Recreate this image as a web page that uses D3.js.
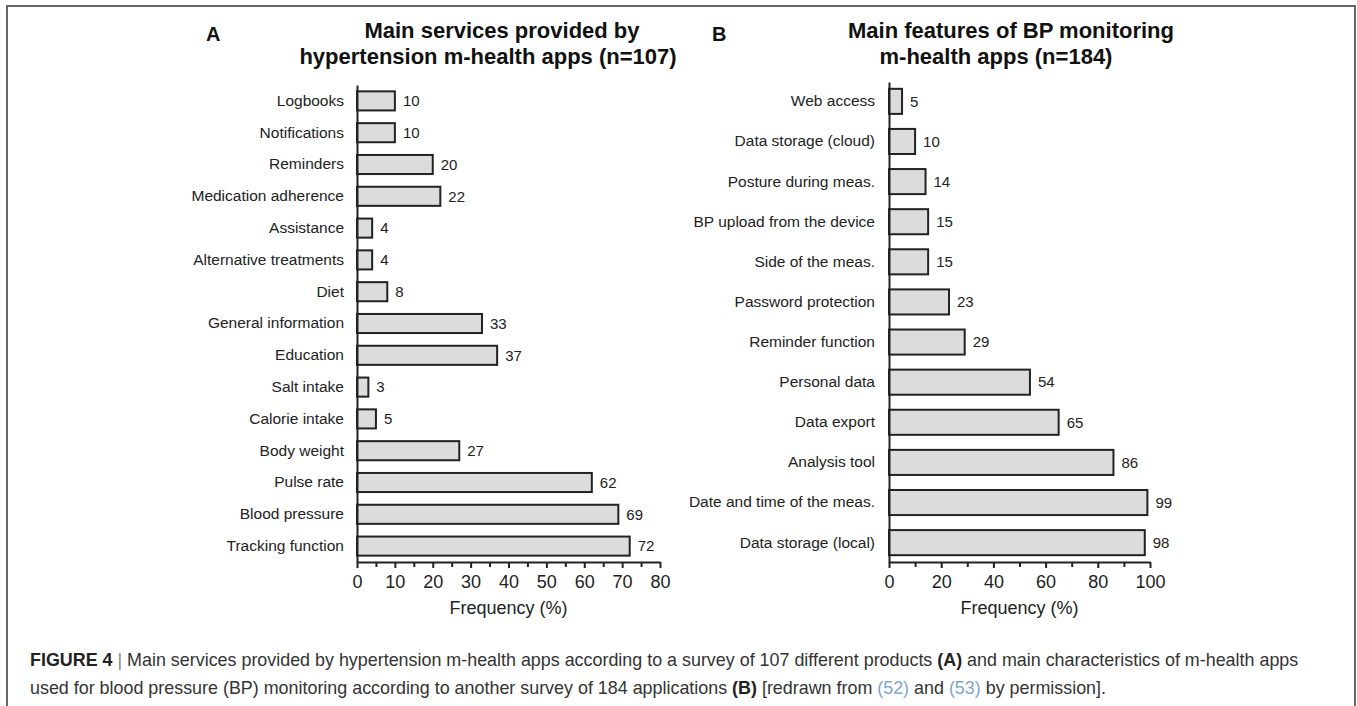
<!DOCTYPE html>
<html>
<head>
<meta charset="utf-8">
<script src="https://cdn.jsdelivr.net/npm/d3@7"></script>
<style>
	body { margin: 0; background: #fff; }
	svg { font-family: "Liberation Sans", Arial, sans-serif; }
	.domain { stroke: #222; stroke-width: 2; }
	.tick line { stroke: #222; stroke-width: 2; }
</style>
</head>
<body>
<div id="chart-area"></div>
<script>
const servicesCats = ["Logbooks", "Notifications", "Reminders", "Medication adherence", "Assistance",
	"Alternative treatments", "Diet", "General information", "Education", "Salt intake",
	"Calorie intake", "Body weight", "Pulse rate", "Blood pressure", "Tracking function"];
const servicesVals = [10, 10, 20, 22, 4, 4, 8, 33, 37, 3, 5, 27, 62, 69, 72];
const servicesTicks = [0, 10, 20, 30, 40, 50, 60, 70, 80];
const servicesMinor = [5, 15, 25, 35, 45, 55, 65, 75];

const featuresCats = ["Web access", "Data storage (cloud)", "Posture during meas.", "BP upload from the device",
	"Side of the meas.", "Password protection", "Reminder function", "Personal data", "Data export",
	"Analysis tool", "Date and time of the meas.", "Data storage (local)"];
const featuresVals = [5, 10, 14, 15, 15, 23, 29, 54, 65, 86, 99, 98];
const featuresTicks = [0, 20, 40, 60, 80, 100];
const featuresMinor = [10, 30, 50, 70, 90];

const svg = d3.select("#chart-area").append("svg")
	.attr("width", 1357)
	.attr("height", 706);

// outer frame
svg.append("path")
	.attr("d", "M7,710 V6 H1355 V710")
	.attr("fill", "none")
	.attr("stroke", "#666")
	.attr("stroke-width", 2);

function drawPanel(p) {
	const data = p.cats.map((c, i) => ({ name: c, value: p.vals[i] }));

	const x = d3.scaleLinear()
		.domain(p.domain)
		.range(p.xRange);

	const y = d3.scaleBand()
		.domain(p.cats)
		.range(p.yRange)
		.paddingInner(p.padIn)
		.paddingOuter(p.padOut);

	const g = svg.append("g");

	g.selectAll("rect.bar").data(data)
		.enter()
		.append("rect")
		.attr("class", "bar")
		.attr("x", x(0))
		.attr("y", d => y(d.name))
		.attr("width", d => x(d.value) - x(0))
		.attr("height", y.bandwidth())
		.attr("fill", "#dcdcdc")
		.attr("stroke", "#222")
		.attr("stroke-width", 2);

	g.selectAll("text.val").data(data)
		.enter()
		.append("text")
		.attr("class", "val")
		.attr("x", d => x(d.value) + 8)
		.attr("y", d => y(d.name) + y.bandwidth() / 2)
		.attr("dy", "0.35em")
		.attr("font-size", 15)
		.attr("fill", "#222")
		.text(d => d.value);

	// minor ticks
	g.append("g")
		.attr("transform", `translate(0,${p.yRange[1]})`)
		.call(d3.axisBottom(x).tickValues(p.minor).tickSize(5).tickSizeOuter(0).tickFormat(""))
		.select(".domain").remove();

	g.append("g")
		.attr("class", "x-axis")
		.attr("transform", `translate(0,${p.yRange[1]})`)
		.call(d3.axisBottom(x).tickValues(p.ticks).tickSize(6).tickSizeOuter(0).tickPadding(7))
		.selectAll("text")
		.attr("font-size", 18)
		.attr("font-family", "Liberation Sans, Arial, sans-serif")
		.attr("fill", "#222");

	g.append("g")
		.attr("class", "y-axis")
		.attr("transform", `translate(${x(0)},0)`)
		.call(d3.axisLeft(y).tickSize(0).tickSizeOuter(0).tickPadding(p.labelPad))
		.selectAll("text")
		.attr("font-size", 15.5)
		.attr("font-family", "Liberation Sans, Arial, sans-serif")
		.attr("fill", "#222");

	g.append("text")
		.attr("x", (x.range()[0] + x.range()[1]) / 2)
		.attr("y", p.yRange[1] + 52)
		.attr("text-anchor", "middle")
		.attr("font-size", 18)
		.attr("fill", "#222")
		.text("Frequency (%)");

	g.append("text")
		.attr("x", p.letterX)
		.attr("y", 41)
		.attr("font-size", 20)
		.attr("font-weight", "bold")
		.attr("fill", "#111")
		.text(p.letter);

	p.title.forEach((t, i) => {
		g.append("text")
			.attr("x", p.titleX[i])
			.attr("y", 38 + i * 26)
			.attr("text-anchor", "middle")
			.attr("font-size", 22)
			.attr("font-weight", "bold")
			.attr("fill", "#111")
			.text(t);
	});
}

drawPanel({
	cats: servicesCats, vals: servicesVals, ticks: servicesTicks, minor: servicesMinor,
	domain: [0, 80], xRange: [357, 660], yRange: [85, 562], padIn: 0.4, padOut: 0.2,
	labelPad: 13, letter: "A", letterX: 206,
	title: ["Main services provided by", "hypertension m-health apps (n=107)"], titleX: [502, 488]
});

drawPanel({
	cats: featuresCats, vals: featuresVals, ticks: featuresTicks, minor: featuresMinor,
	domain: [0, 100], xRange: [889, 1150], yRange: [82, 562], padIn: 0.375, padOut: 0.17,
	labelPad: 14, letter: "B", letterX: 712,
	title: ["Main features of BP monitoring", "m-health apps (n=184)"], titleX: [1011, 996]
});

// caption
const cap = svg.append("g")
	.attr("font-size", 17.9)
	.attr("fill", "#333");

const line1 = cap.append("text").attr("x", 30).attr("y", 666);
line1.append("tspan").attr("font-weight", "bold").attr("fill", "#222").text("FIGURE 4");
line1.append("tspan").attr("fill", "#888").text(" | ");
line1.append("tspan").text("Main services provided by hypertension m-health apps according to a survey of 107 different products ");
line1.append("tspan").attr("font-weight", "bold").attr("fill", "#222").text("(A)");
line1.append("tspan").text(" and main characteristics of m-health apps");

const line2 = cap.append("text").attr("x", 30).attr("y", 694);
line2.append("tspan").text("used for blood pressure (BP) monitoring according to another survey of 184 applications ");
line2.append("tspan").attr("font-weight", "bold").attr("fill", "#222").text("(B)");
line2.append("tspan").text(" [redrawn from ");
line2.append("tspan").attr("fill", "#7fa6c9").text("(52)");
line2.append("tspan").text(" and ");
line2.append("tspan").attr("fill", "#7fa6c9").text("(53)");
line2.append("tspan").text(" by permission].");
</script>
</body>
</html>
